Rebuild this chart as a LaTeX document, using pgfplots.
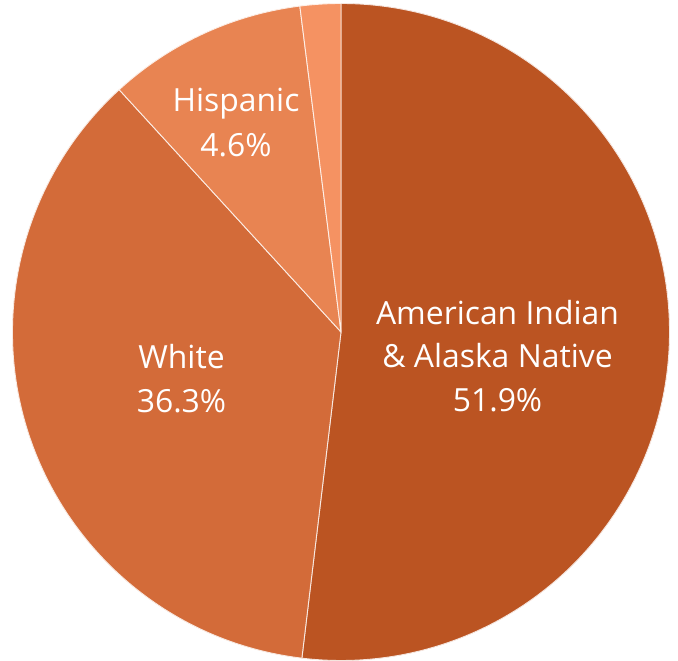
\documentclass[border=0pt]{standalone}
\usepackage{pgfplots}
\pgfplotsset{compat=1.18}
\usepackage{pgfplotstable}
\usepackage{fontspec}
\setmainfont{Open Sans}

\definecolor{slice0}{HTML}{BB5422}
\definecolor{slice1}{HTML}{D36B39}
\definecolor{slice2}{HTML}{E88452}
\definecolor{slice3}{HTML}{F59262}

% slices clockwise from the top: start and size in percent of the circle
\pgfplotstableread{
x y idx start size
0 0 0   0.0   51.9
0 0 1   51.9  36.3
0 0 2   88.2  9.8
0 0 3   98.0  2.0
}\piedata

\begin{document}
\begin{tikzpicture}[lbl/.style={anchor=base, text=white, font=\fontsize{32}{40}\selectfont}]
\begin{axis}[
    set layers,
    x=1bp, y=1bp,
    xmin=-341, xmax=337,
    ymin=-329, ymax=332,
    hide axis,
    clip=false,
]
\addplot[
    scatter, only marks, mark=*, mark size=0pt,
    visualization depends on={\thisrow{idx}\as\slid},
    visualization depends on={\thisrow{start}\as\slst},
    visualization depends on={\thisrow{size}\as\slsz},
    scatter/@pre marker code/.code={%
        \pgfmathtruncatemacro\slci{\slid}%
        \pgfmathsetmacro\slaa{90-3.6*\slst}%
        \pgfmathsetmacro\slab{90-3.6*(\slst+\slsz)}%
        \fill[slice\slci, draw=white!85!slice\slci, line width=0.9bp, line join=round]
            (0pt,0pt) -- (\slaa:328.5bp) arc[start angle=\slaa, end angle=\slab, radius=328.5bp] -- cycle;
    },
    scatter/@post marker code/.code={},
] table[x=x, y=y] {\piedata};

\coordinate (ll) at (rel axis cs:0,0);
\coordinate (ur) at (rel axis cs:1,1);

\begin{pgfonlayer}{axis foreground}
\node[lbl] at (axis cs:156.5,7) {American Indian};
\node[lbl] at (axis cs:156.5,-36) {\& Alaska Native};
\node[lbl] at (axis cs:156.5,-80) {51.9\%};
\node[lbl] at (axis cs:-159.5,-37) {White};
\node[lbl] at (axis cs:-159.5,-81) {36.3\%};
\node[lbl] at (axis cs:-105,220) {Hispanic};
\node[lbl] at (axis cs:-105,175) {4.6\%};
\end{pgfonlayer}
\end{axis}
\pgfresetboundingbox
\path[use as bounding box] (ll) rectangle (ur);
\end{tikzpicture}
\end{document}
